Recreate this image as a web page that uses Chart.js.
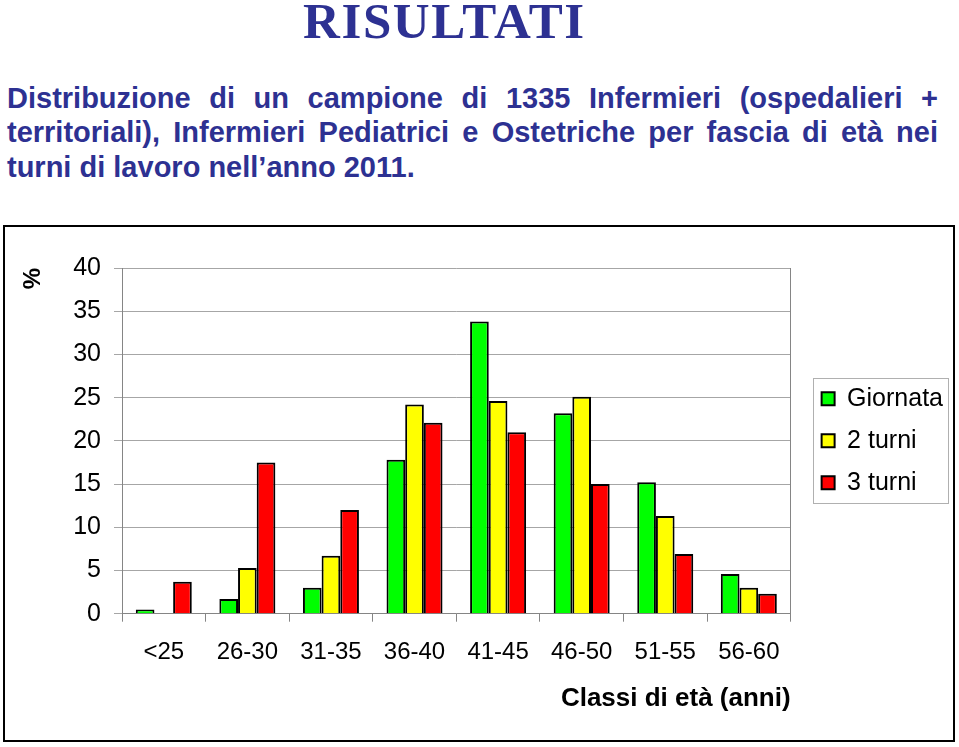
<!DOCTYPE html>
<html>
<head>
<meta charset="utf-8">
<script src="https://cdn.jsdelivr.net/npm/chart.js@4.4.1/dist/chart.umd.min.js"></script>
<style>
  body { margin: 0; background: #fff; width: 959px; height: 747px; position: relative; overflow: hidden; }
  .title {
    position: absolute; left: 303px; top: -4px; margin: 0;
    font: bold 51px "Liberation Serif", "Times New Roman", serif; line-height: 51px;
    letter-spacing: 1.6px;
    color: #2d3192; white-space: nowrap;
  }
  .subtitle {
    position: absolute; left: 7px; top: 81px; width: 931px;
    font: bold 29px "Liberation Sans", Arial, sans-serif; line-height: 34.3px;
    color: #2d3192;
  }
  .subtitle div { white-space: nowrap; }
  .subtitle .j { text-align: justify; text-align-last: justify; }
  .frame {
    position: absolute; left: 3px; top: 225px; width: 948px; height: 513px;
    border: 2px solid #000;
  }
</style>
</head>
<body>
<h1 class="title">RISULTATI</h1>
<div class="subtitle">
  <div class="j">Distribuzione di un campione di 1335 Infermieri (ospedalieri +</div>
  <div class="j">territoriali), Infermieri Pediatrici e Ostetriche per fascia di età nei</div>
  <div>turni di lavoro nell’anno 2011.</div>
</div>
<div class="frame"><canvas id="chart"></canvas></div>
<script>
// fasce di età
const categories = ['<25', '26-30', '31-35', '36-40', '41-45', '46-50', '51-55', '56-60']
// percentuali
const giornata = [0.5, 1.7, 3.0, 17.8, 33.8, 23.2, 15.2, 4.6]
const dueTurni = [0, 5.3, 6.7, 24.2, 24.6, 25.1, 11.3, 3.0]
const treTurni = [3.7, 17.5, 12.0, 22.1, 21.0, 15.0, 6.9, 2.3]
const seriesNames = ['Giornata', '2 turni', '3 turni']
const yMin = 0
const yMax = 40
const yStep = 5

const gridGray = '#a6a6a6'
const axisGray = '#858585'

// bordo grigio attorno alla legenda
const legendBorder = {
  id: 'legendBorder',
  afterDraw(chart) {
    const boxes = chart.legend && chart.legend.legendHitBoxes
    if (!boxes || !boxes.length) return
    const left = Math.min(...boxes.map(b => b.left)) - 9
    const right = Math.max(...boxes.map(b => b.left + b.width)) + 5
    const top = boxes[0].top - 8
    const last = boxes[boxes.length - 1]
    const bottom = last.top + last.height + 8
    const ctx = chart.ctx
    ctx.save()
    ctx.strokeStyle = '#b0b0b0'
    ctx.lineWidth = 1
    ctx.strokeRect(Math.round(left) + 0.5, Math.round(top) + 0.5, Math.round(right - left), Math.round(bottom - top))
    ctx.restore()
  }
}

const barStyle = {
  borderColor: '#000',
  borderWidth: 2,
  categoryPercentage: 0.67,
  barPercentage: 1.0
}

new Chart(document.getElementById('chart').getContext('2d'), {
  type: 'bar',
  data: {
    labels: categories,
    datasets: [
      { label: seriesNames[0], data: giornata, backgroundColor: '#00ff00', ...barStyle },
      { label: seriesNames[1], data: dueTurni, backgroundColor: '#ffff00', ...barStyle },
      { label: seriesNames[2], data: treTurni, backgroundColor: '#ff0000', ...barStyle }
    ]
  },
  options: {
    responsive: true,
    maintainAspectRatio: false,
    animation: false,
    layout: { padding: { top: 41, left: 0, right: 0, bottom: 0 } },
    scales: {
      x: {
        grid: { offset: true, drawOnChartArea: false, drawTicks: true, tickLength: 8, color: axisGray },
        border: { color: axisGray, width: 1 },
        ticks: { color: '#000', padding: 16, maxRotation: 0, font: { family: 'Liberation Sans, Arial', size: 24 } },
        title: {
          display: true, text: 'Classi di età (anni)', align: 'end', color: '#000',
          font: { family: 'Liberation Sans, Arial', size: 26, weight: 'bold' },
          padding: { top: 0, bottom: 26 }
        },
        afterFit(scale) { scale.height = 126.3 }
      },
      y: {
        min: yMin,
        max: yMax,
        ticks: { stepSize: yStep, color: '#000', padding: 13, font: { family: 'Liberation Sans, Arial', size: 25 } },
        grid: { color: gridGray, tickColor: gridGray, tickLength: 8 },
        border: { color: axisGray, width: 1 },
        title: {
          display: true, text: '%', align: 'end', color: '#000',
          font: { family: 'Liberation Sans, Arial', size: 24, weight: 'bold' },
          padding: { top: 14, bottom: 0 }
        },
        afterFit(scale) { scale.width = 117 }
      },
      // asse destro vuoto: solo la linea che chiude l'area del grafico
      y2: {
        position: 'right',
        ticks: { display: false },
        grid: { drawOnChartArea: false, drawTicks: false },
        border: { color: axisGray, width: 1 },
        afterFit(scale) { scale.width = 14 }
      }
    },
    plugins: {
      legend: {
        position: 'right',
        fullSize: false,
        labels: {
          boxWidth: 13,
          boxHeight: 13,
          padding: 17,
          color: '#000',
          font: { family: 'Liberation Sans, Arial', size: 25 }
        }
      },
      tooltip: { enabled: false }
    }
  },
  plugins: [legendBorder]
})
</script>
</body>
</html>
